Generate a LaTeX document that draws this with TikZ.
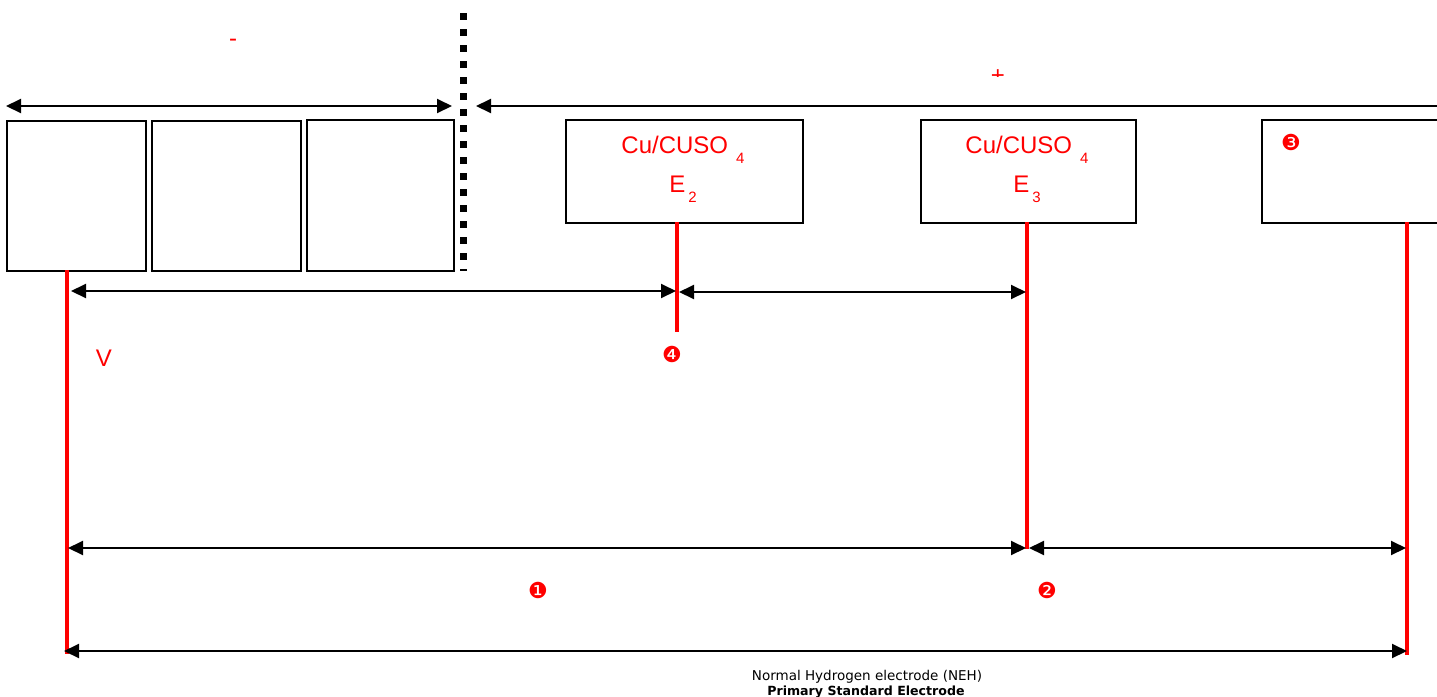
\documentclass[tikz,border=0pt]{standalone}
\usepackage{fontspec}
\setmainfont{Liberation Sans}
\newfontfamily\dejavu{DejaVu Sans}
\usetikzlibrary{arrows.meta}
\begin{document}
\begin{tikzpicture}[x=0.5pt,y=-0.5pt,
  box/.style={draw=black, line width=1pt, inner sep=0pt, anchor=north west},
  elec/.style={draw=red, line width=2pt},
  dim/.style={draw=black, line width=1pt, {Triangle[length=7.5pt,width=7pt]}-{Triangle[length=7.5pt,width=7pt]}},
  onearrow/.style={draw=black, line width=1pt, {Triangle[length=7.5pt,width=7pt]}-},
  sep/.style={draw=black, line width=3.5pt, dash pattern=on 3.5pt off 4.5pt},
  rtxt/.style={text=red, inner sep=0pt, anchor=base, font=\fontsize{12pt}{14pt}\selectfont},
  num/.style={text=red, inner sep=0pt, font=\dejavu\fontsize{11pt}{12pt}\selectfont},
  note/.style={inner sep=0pt, anchor=base, font=\dejavu\fontsize{6.75pt}{8pt}\selectfont},
  notebold/.style={inner sep=0pt, anchor=base, font=\dejavu\bfseries\fontsize{6.3pt}{8pt}\selectfont}]
\useasboundingbox (0,0) rectangle (1437,697);
\clip (0,0) rectangle (1437,697);
\newcommand{\lowsub}[2]{\hspace{#2}\raisebox{-5pt}{\fontsize{7.5pt}{8pt}\selectfont #1}}

% boxes
\node[box, minimum width=69.5pt, minimum height=75pt] (b1) at (6,120) {};
\node[box, minimum width=74.5pt, minimum height=75pt] (b2) at (151,120) {};
\node[box, minimum width=73.5pt, minimum height=75.5pt] (b3) at (306,119) {};
\node[box, minimum width=118.5pt, minimum height=51.5pt] (e2) at (565,119) {};
\node[box, minimum width=107.5pt, minimum height=51.5pt] (e3) at (920,119) {};
\node[box, minimum width=100pt, minimum height=51.5pt] (e4) at (1261,119) {};

% box texts
\node[rtxt] (e2a) at (683,153) {Cu/CUSO\lowsub{4}{4pt}};
\node[rtxt] (e2b) at (683,192) {E\lowsub{2}{1.5pt}};
\node[rtxt] (e3a) at (1027,153) {Cu/CUSO\lowsub{4}{4pt}};
\node[rtxt] (e3b) at (1027,192) {E\lowsub{3}{1.5pt}};
\node[num] (n3) at (1291,142) {❸};

% separator
\coordinate (st) at (463,13);
\coordinate (sb) at (463,271);
\draw[sep] (st) -- (sb);

% signs
\node[rtxt] (minus) at (233,46) {-};
\begin{scope}
  \clip (950,0) rectangle (1050,76);
  \node[rtxt] (plus) at (998,83) {+};
\end{scope}

% top arrows
\coordinate (tl) at (6,106);
\coordinate (tr) at (452,106);
\coordinate (ul) at (476,106);
\coordinate (ur) at (1445,106);
\draw[dim] (tl) -- (tr);
\draw[onearrow] (ul) -- (ur);

% electrode lines
\coordinate (p1t) at (67,270);
\coordinate (p1b) at (67,654);
\coordinate (p2t) at (677,222);
\coordinate (p2b) at (677,332);
\coordinate (p3t) at (1027,222);
\coordinate (p3b) at (1027,549);
\coordinate (p4t) at (1407,222);
\coordinate (p4b) at (1407,655);
\draw[elec] (p1t) -- (p1b);
\draw[elec] (p2t) -- (p2b);
\draw[elec] (p3t) -- (p3b);
\draw[elec] (p4t) -- (p4b);

% dimension arrows
\coordinate (a1) at (71,291);
\coordinate (a2) at (676,291);
\coordinate (a3) at (679,292);
\coordinate (a4) at (1026,292);
\draw[dim] (a1) -- (a2);
\draw[dim] (a3) -- (a4);
\coordinate (c1) at (68,548);
\coordinate (c2) at (1026,548);
\coordinate (c3) at (1029,548);
\coordinate (c4) at (1406,548);
\draw[dim] (c1) -- (c2);
\draw[dim] (c3) -- (c4);
\coordinate (d1) at (64,651);
\coordinate (d2) at (1407,651);
\draw[dim] (d1) -- (d2);

% labels
\node[rtxt, anchor=center] (v) at (104,358) {V};
\node[num] (n4) at (672,354) {❹};
\node[num] (n1) at (538,590) {❶};
\node[num] (n2) at (1047,590) {❷};

\node[note] (neh) at (867,680) {Normal Hydrogen electrode (NEH)};
\node[notebold] (pse) at (866,695) {Primary Standard Electrode};
\end{tikzpicture}
\end{document}
